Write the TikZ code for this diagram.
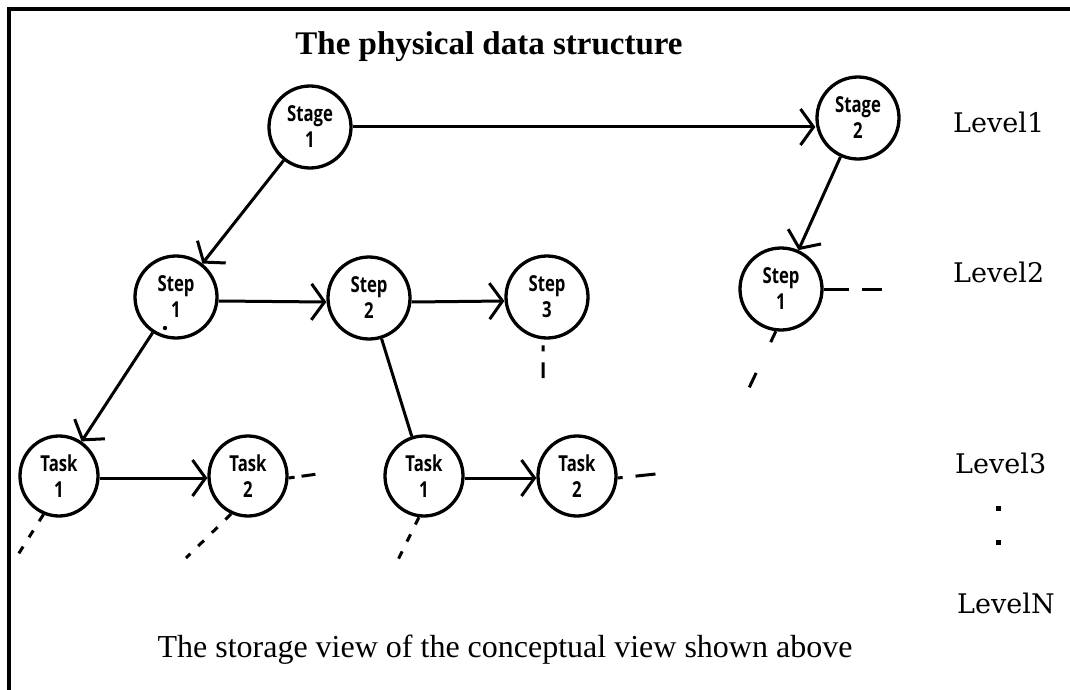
\documentclass[tikz,border=0pt]{standalone}
\usepackage{fontspec}
\usetikzlibrary{arrows.meta,shapes.geometric,calc}
\setmainfont{Liberation Serif}
\newfontfamily\labelfont[FakeStretch=0.76]{Open Sans}
\newfontfamily\levelfont{DejaVu Serif}

\begin{document}
\begin{tikzpicture}[x=1pt,y=-1pt,
  every node/.style={inner sep=0pt},
  nodetext/.style={font=\labelfont\bfseries\fontsize{22}{26}\selectfont, align=center},
  unitbox/.style={circle, draw, line width=3.3pt, minimum size=82pt, nodetext},
  taskbox/.style={ellipse, draw, line width=3.3pt, minimum width=78pt, minimum height=80pt, nodetext},
  link/.style={line width=3pt},
  arr/.style={link, -{Straight Barb[length=13pt,width=36pt]}},
  tail/.style={line width=3pt, dash pattern=on 8pt off 11pt},
  level/.style={font=\levelfont\fontsize{27}{30}\selectfont, anchor=base west},
]
\fill[white] (0,0) rectangle (1070,690);
\useasboundingbox (0,0) rectangle (1070,690);

% frame
\draw[line width=4.5pt, line join=miter] (9,700) -- (9,9) -- (1070,9);

% titles
\node[font=\bfseries\fontsize{33}{36}\selectfont, anchor=base] (title) at (489,55) {The physical data structure};
\node[font=\fontsize{32}{36}\selectfont, anchor=base] (caption) at (505,657) {The storage view of the conceptual view shown above};

% level 1
\node[unitbox] (s1) at (310,127) {Stage\\1};
\node[unitbox] (s2) at (858,118) {Stage\\2};
% level 2
\node[unitbox] (p1) at (176,297) {Step\\1};
\node[unitbox] (p2) at (369,298) {Step\\2};
\node[unitbox] (p3) at (547,297) {Step\\3};
\node[unitbox] (q1) at (781,289) {Step\\1};
% level 3
\node[taskbox] (t1) at (59,476) {Task\\1};
\node[taskbox] (t2) at (248,476) {Task\\2};
\node[taskbox] (t3) at (424,476) {Task\\1};
\node[taskbox] (t4) at (577,476) {Task\\2};

% links
\draw[arr] (s1.east) -- (s1.east -| s2.west);
\draw[arr] (s1) -- (p1);
\draw[arr] (s2) -- (q1);
\draw[arr] ([yshift=-4pt]p1.east) -- ([yshift=-4pt]p2.west);
\draw[arr] ([yshift=-4pt]p2.east) -- ([yshift=-4pt]p3.west);
\draw[arr] (p1) -- (t1);
\draw[link] (p2) -- (t3);
\draw[arr] ([yshift=-2pt]t1.east) -- ([yshift=-2pt]t2.west);
\draw[arr] ([yshift=-2pt]t3.east) -- ([yshift=-2pt]t4.west);

% continuation marks
\coordinate (t1end) at (14,561);
\coordinate (t2end) at (186,558);
\coordinate (t3end) at (395,566);
\coordinate (p3end) at (543,378);
\coordinate (q1end) at (749,388);
\draw[tail] (t1.-112) -- (t1end);
\draw[tail] (t2.-114) -- (t2end);
\draw[tail] (t3.-97) -- (t3end);
\draw[tail, shorten <=6pt, dash pattern=on 6pt off 11pt on 20pt] (p3.-95) -- (p3end);
\draw[tail, dash pattern=on 12pt off 34pt on 16pt] (q1.-97) -- (q1end);

\coordinate (t2more) at ($(t2.east)+(29,-2)$);
\coordinate (t4more) at ($(t4.east)+(38,-2)$);
\coordinate (q1more) at ($(q1.east)+(58,0)$);
\draw[link, dash pattern=on 6pt off 7pt on 14pt] ([yshift=-2pt]t2.east) -- (t2more);
\draw[link, dash pattern=on 5pt off 13pt on 20pt] ([yshift=-2pt]t4.east) -- (t4more);
\draw[link, dash pattern=on 25pt off 13pt on 20pt] (q1.east) -- (q1more);

\fill (165,328) circle (2.2pt);

% level labels
\node[level] (lv1) at (953,132) {Level1};
\node[level] (lv2) at (953,282) {Level2};
\node[level] (lv3) at (955,473) {Level3};
\node[level] (lvn) at (957,613) {LevelN};
\fill (996,506) rectangle +(5,5);
\fill (996,540) rectangle +(5,5);
\end{tikzpicture}
\end{document}
